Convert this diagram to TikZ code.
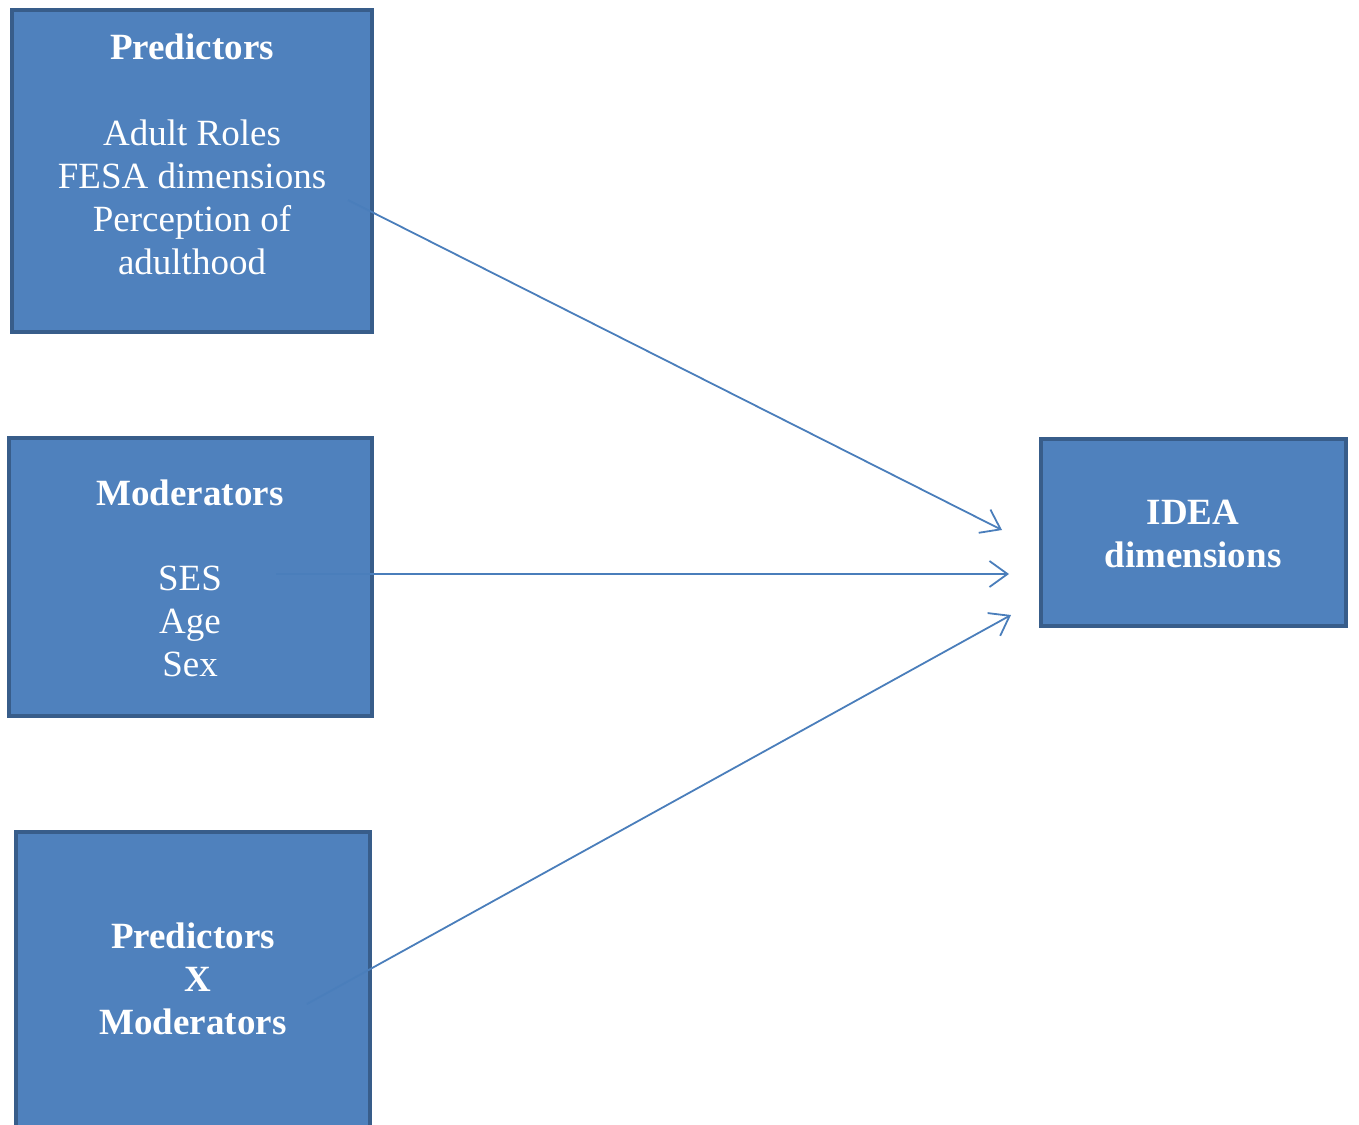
\documentclass[tikz,border=0pt]{standalone}
\usepackage{fontspec}
\setmainfont{Liberation Serif}
\usetikzlibrary{arrows.meta}
\definecolor{boxfill}{HTML}{4F81BD}
\definecolor{boxline}{HTML}{385D8A}
\definecolor{arrowcol}{HTML}{4A7EBB}
\tikzset{
  blockbox/.style={draw=boxline, line width=4pt, fill=boxfill, rectangle, inner sep=0pt},
  lbl/.style={text=white, align=center, font=\fontsize{37}{43}\selectfont, inner sep=0pt},
  conn/.style={draw=arrowcol, line width=1.8pt, -{Straight Barb[length=18pt,width=26pt,line width=1.8pt]}}
}
\begin{document}
\begin{tikzpicture}[x=1pt,y=-1pt]
\useasboundingbox (0,0) rectangle (1359,1124);
\clip (0,0) rectangle (1359,1124);
% boxes
\node[blockbox, minimum width=360pt, minimum height=322pt] (pred) at (192,171) {};
\node[blockbox, minimum width=363pt, minimum height=278pt] (mod) at (190.5,577) {};
\node[blockbox, minimum width=354pt, minimum height=310pt] (inter) at (193,987) {};
\node[blockbox, minimum width=305pt, minimum height=187pt] (idea) at (1193.5,532) {};
% connector endpoints
\coordinate (s1) at (348,200);
\coordinate (e1) at (1002,530);
\coordinate (s2) at (276,574);
\coordinate (e2) at (1009,574);
\coordinate (s3) at (307,1004);
\coordinate (e3) at (1011,615);
\draw[conn] (s1) -- (e1);
\draw[conn] (s2) -- (e2);
\draw[conn] (s3) -- (e3);
% labels
\node[lbl, font=\fontsize{37}{43}\selectfont\bfseries] (predt) at (192,47) {Predictors};
\node[lbl, anchor=center] (predl) at (192,197) {Adult Roles\\FESA dimensions\\Perception of\\adulthood};
\node[lbl, font=\fontsize{37}{43}\selectfont\bfseries] (modt) at (190,493) {Moderators};
\node[lbl] (modl) at (190,621) {SES\\Age\\Sex};
\node[lbl, font=\fontsize{37}{43}\selectfont\bfseries] (intert) at (193,979) {Predictors\\\hspace*{0.25em}X\\Moderators};
\node[lbl, font=\fontsize{37}{43}\selectfont\bfseries] (ideat) at (1193,534) {IDEA\\dimensions};
\end{tikzpicture}
\end{document}
